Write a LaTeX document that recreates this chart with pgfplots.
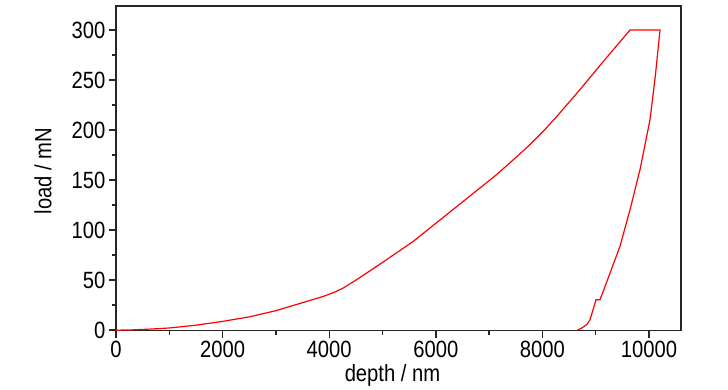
\documentclass[border=0pt]{standalone}
\usepackage{fontspec}
\setmainfont[FakeStretch=0.86]{Liberation Sans}
\usepackage{pgfplots}
\pgfplotsset{compat=1.18}
\begin{document}
\begin{tikzpicture}
\begin{axis}[
  scale only axis,
  width=565pt, height=324.7pt,
  xmin=0, xmax=10600,
  ymin=-0.5, ymax=324,
  axis line style={line width=1.6pt, black!85},
  xtick={0,2000,4000,6000,8000,10000},
  ytick={0,50,100,150,200,250,300},
  scaled x ticks=false, scaled y ticks=false,
  minor x tick num=1, minor y tick num=1,
  tick align=outside,
  xtick pos=bottom, ytick pos=left,
  major tick length=7pt, minor tick length=4pt,
  every tick/.style={line width=1.4pt, black!85},
  /pgf/number format/1000 sep={},
  /pgf/number format/assume math mode=true,
  every tick label/.append style={font=\fontsize{23.5}{27}\selectfont},
  xlabel={depth / nm}, ylabel={load / mN},
  label style={font=\fontsize{23.5}{27}\selectfont},
  xlabel style={at={(axis description cs:0.4894,-0.1386)}, anchor=center},
  ylabel style={at={(axis description cs:-0.1292,0.492)}, anchor=center},
  clip=false,
]
\addplot[red, line width=1.2pt] coordinates {
(0,0) (300,0.3) (600,1.0) (1000,2.2) (1500,5.0) (2000,8.8) (2500,13.3)
(3000,19.5) (3265,23.8) (3500,27.5) (3890,33.8) (4100,38) (4265,42.2)
(4515,50.5) (4890,63.8) (5200,75) (5578,88.8) (5891,102.2) (6516,128.8)
(7141,155.5) (7500,172.5) (7767,185.5) (8020,199) (8268,213.5) (8705,240.5) (9205,272.5) (9644,300)
(10206,300) (10120,255)
(10019,210.5) (9831,160.5) (9644,120.5) (9456,84) (9268,57) (9081,30.5)
(9006,30.5) (8968,23.8) (8893,10.5) (8831,5.5) (8737,2.2) (8655,0)
};
\coordinate (sw) at (rel axis cs:0,0);
\coordinate (ne) at (rel axis cs:1,1);
\end{axis}
\pgfresetboundingbox
\path[use as bounding box] ([xshift=-116pt,yshift=-59.3pt]sw) rectangle ([xshift=47pt,yshift=6pt]ne);
\end{tikzpicture}
\end{document}
